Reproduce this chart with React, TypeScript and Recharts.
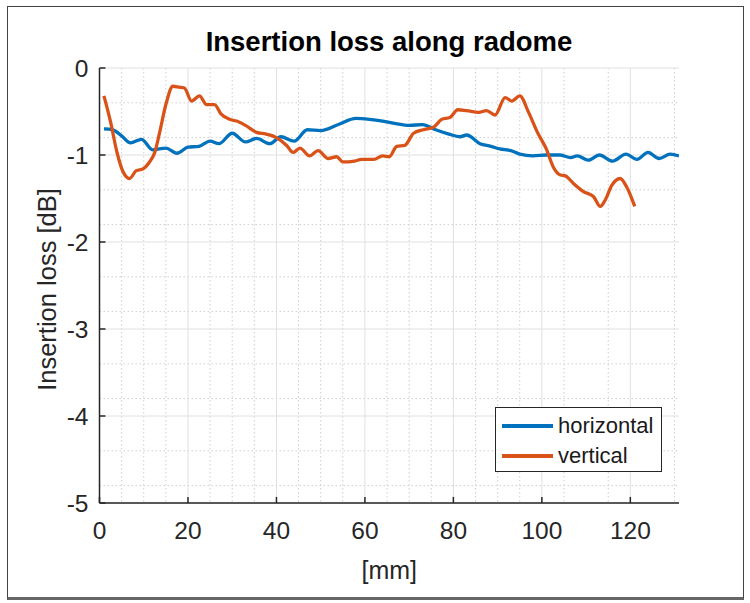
import React from "react";
import {
  LineChart,
  Line,
  XAxis,
  YAxis,
  CartesianGrid,
  ReferenceLine,
  Legend,
} from "recharts";

const FONT = '"Liberation Sans", Arial, Helvetica, sans-serif';
const AXIS = "#262626";

const xTicks = [0, 20, 40, 60, 80, 100, 120];
const yTicks = [0, -1, -2, -3, -4, -5];
const xMinor = [5, 10, 15, 25, 30, 35, 45, 50, 55, 65, 70, 75, 85, 90, 95, 105, 110, 115, 125, 130];
const yMinor = [
  -0.2, -0.4, -0.6, -0.8, -1.2, -1.4, -1.6, -1.8, -2.2, -2.4, -2.6, -2.8,
  -3.2, -3.4, -3.6, -3.8, -4.2, -4.4, -4.6, -4.8,
];

const seriesNames = ["horizontal", "vertical"];

// horizontal polarisation
const horizMm = [
  1, 3, 5, 7, 9.5, 12, 15, 17.5, 20, 22.5, 25, 27, 30, 33, 35.5, 38.5, 41, 44,
  47, 50, 54, 58, 61, 64, 67, 70, 73, 76, 79, 81.5, 83, 86, 88.5, 90.5, 93, 95,
  98, 101, 104, 106.5, 108, 110.5, 113, 116, 119, 121.5, 124, 126.5, 129, 131,
];
const horizLoss = [
  -0.7, -0.71, -0.78, -0.86, -0.82, -0.94, -0.92, -0.98, -0.91, -0.9, -0.84,
  -0.87, -0.75, -0.85, -0.81, -0.87, -0.79, -0.84, -0.71, -0.72, -0.65, -0.58,
  -0.59, -0.61, -0.64, -0.66, -0.65, -0.71, -0.76, -0.79, -0.77, -0.87, -0.9,
  -0.93, -0.95, -0.99, -1.01, -1.0, -1.0, -1.03, -1.01, -1.06, -1.0, -1.07,
  -0.99, -1.05, -0.97, -1.04, -0.99, -1.01,
];

// vertical polarisation
const vertMm = [
  1, 2.5, 4, 5.3, 6.8, 8.3, 9.8, 11.3, 12.5, 13.6, 15, 16.6, 18, 19.2, 20.8,
  22.6, 24.2, 26, 27.5, 29.4, 31, 33, 35.5, 37.7, 40, 42.3, 43.8, 45.3, 47.5,
  49.4, 51.7, 53.6, 55, 57.7, 59.2, 62, 64, 65.5, 67.2, 69, 71, 73.2, 75.5,
  77.4, 79.2, 81, 83, 85.7, 87.5, 89.4, 91.7, 93.2, 95, 97, 99, 101, 102.6,
  104.2, 105.3, 107.2, 109.4, 111.7, 113.2, 114.3, 115.8, 117.7, 119.2, 121,
];
const vertLoss = [
  -0.32, -0.62, -0.98, -1.19, -1.27, -1.18, -1.16, -1.08, -0.97, -0.74, -0.42,
  -0.21, -0.22, -0.23, -0.38, -0.32, -0.42, -0.42, -0.53, -0.59, -0.61, -0.66,
  -0.74, -0.76, -0.8, -0.89, -0.97, -0.92, -1.01, -0.95, -1.04, -1.02, -1.08,
  -1.07, -1.05, -1.05, -1.01, -1.02, -0.9, -0.89, -0.75, -0.71, -0.68, -0.59,
  -0.57, -0.48, -0.49, -0.51, -0.49, -0.54, -0.34, -0.38, -0.32, -0.51, -0.74,
  -0.93, -1.14, -1.23, -1.24, -1.33, -1.42, -1.48, -1.59, -1.52, -1.35, -1.27,
  -1.37, -1.59,
];

const horizData = horizMm.map((mm, i) => ({ mm, loss: horizLoss[i] }));
const vertData = vertMm.map((mm, i) => ({ mm, loss: vertLoss[i] }));

function LegendBox({ payload }: { payload?: { value: string; color: string }[] }) {
  const items =
    payload && payload.length
      ? payload
      : [
          { value: seriesNames[0], color: "#0072BD" },
          { value: seriesNames[1], color: "#D95319" },
        ];
  return (
    <div
      style={{
        boxSizing: "border-box",
        width: 167,
        height: 65,
        background: "#fff",
        border: `1px solid ${AXIS}`,
        padding: "3px 0 0 6px",
        fontFamily: FONT,
        fontSize: 22,
        color: "#1a1a1a",
      }}
    >
      {items.map((p) => (
        <div key={p.value} style={{ display: "flex", alignItems: "center", height: 30 }}>
          <span
            style={{
              display: "inline-block",
              width: 51,
              height: 4,
              background: p.color,
              marginRight: 5,
            }}
          />
          <span>{p.value}</span>
        </div>
      ))}
    </div>
  );
}

export default function App() {
  return (
    <div style={{ position: "absolute", left: 0, top: 0, width: 750, height: 603, background: "#fff" }}>
      <div
        style={{
          position: "absolute",
          left: 7,
          top: 6,
          width: 735,
          height: 590,
          borderLeft: "1px solid #444",
          borderTop: "1px solid #444",
          borderRight: "1px solid #444",
          borderBottom: "3px solid #666",
        }}
      />
      <div
        style={{
          position: "absolute",
          left: 99,
          width: 580,
          top: 26,
          textAlign: "center",
          fontFamily: FONT,
          fontWeight: "bold",
          fontSize: 27.5,
          color: "#000",
        }}
      >
        Insertion loss along radome
      </div>
      <LineChart
        width={750}
        height={603}
        margin={{ top: 68, right: 71, left: 0, bottom: 0 }}
        style={{ position: "absolute", left: 0, top: 0 }}
      >
        <CartesianGrid
          horizontal
          vertical
          horizontalValues={yMinor}
          verticalValues={xMinor}
          stroke="#cfcfcf"
          strokeDasharray="1.5 2.5"
        />
        <CartesianGrid
          horizontal
          vertical
          horizontalValues={yTicks}
          verticalValues={xTicks}
          stroke="#e0e0e0"
        />
        <XAxis
          dataKey="mm"
          type="number"
          domain={[0, 131]}
          ticks={xTicks}
          allowDataOverflow
          height={100}
          tickLine={false}
          tickSize={0}
          tickMargin={19}
          axisLine={{ stroke: AXIS, strokeWidth: 1.5 }}
          tick={{ fontSize: 24.5, fill: AXIS, fontFamily: FONT }}
          label={{
            value: "[mm]",
            position: "center",
            dy: 17,
            style: { fontSize: 25, fill: AXIS, fontFamily: FONT },
          }}
        />
        <YAxis
          type="number"
          domain={[-5, 0]}
          ticks={yTicks}
          allowDataOverflow
          width={99.5}
          tickLine={false}
          tickSize={0}
          tickMargin={11}
          axisLine={{ stroke: AXIS, strokeWidth: 1.5 }}
          tick={{ fontSize: 24.5, fill: AXIS, fontFamily: FONT }}
          label={{
            value: "Insertion loss [dB]",
            angle: -90,
            position: "center",
            dx: -3,
            dy: 4,
            style: { fontSize: 25.5, fill: AXIS, fontFamily: FONT, textAnchor: "middle" },
          }}
        />
        {xTicks.map((t) => (
          <ReferenceLine
            key={"xt" + t}
            segment={[
              { x: t, y: -5 },
              { x: t, y: -4.93 },
            ]}
            stroke={AXIS}
            strokeWidth={1.5}
            ifOverflow="visible"
          />
        ))}
        {yTicks.map((t) => (
          <ReferenceLine
            key={"yt" + t}
            segment={[
              { x: 0, y: t },
              { x: 1.35, y: t },
            ]}
            stroke={AXIS}
            strokeWidth={1.5}
            ifOverflow="visible"
          />
        ))}
        <Line
          data={horizData}
          dataKey="loss"
          name={seriesNames[0]}
          type="monotone"
          stroke="#0072BD"
          strokeWidth={3.3}
          dot={false}
          isAnimationActive={false}
        />
        <Line
          data={vertData}
          dataKey="loss"
          name={seriesNames[1]}
          type="monotone"
          stroke="#D95319"
          strokeWidth={3.3}
          dot={false}
          isAnimationActive={false}
        />
        <Legend
          layout="vertical"
          align="center"
          verticalAlign="middle"
          content={(props: any) => <LegendBox payload={props.payload} />}
          wrapperStyle={{ position: "absolute", left: 495, top: 407, width: 167, height: 65 }}
        />
      </LineChart>
    </div>
  );
}
